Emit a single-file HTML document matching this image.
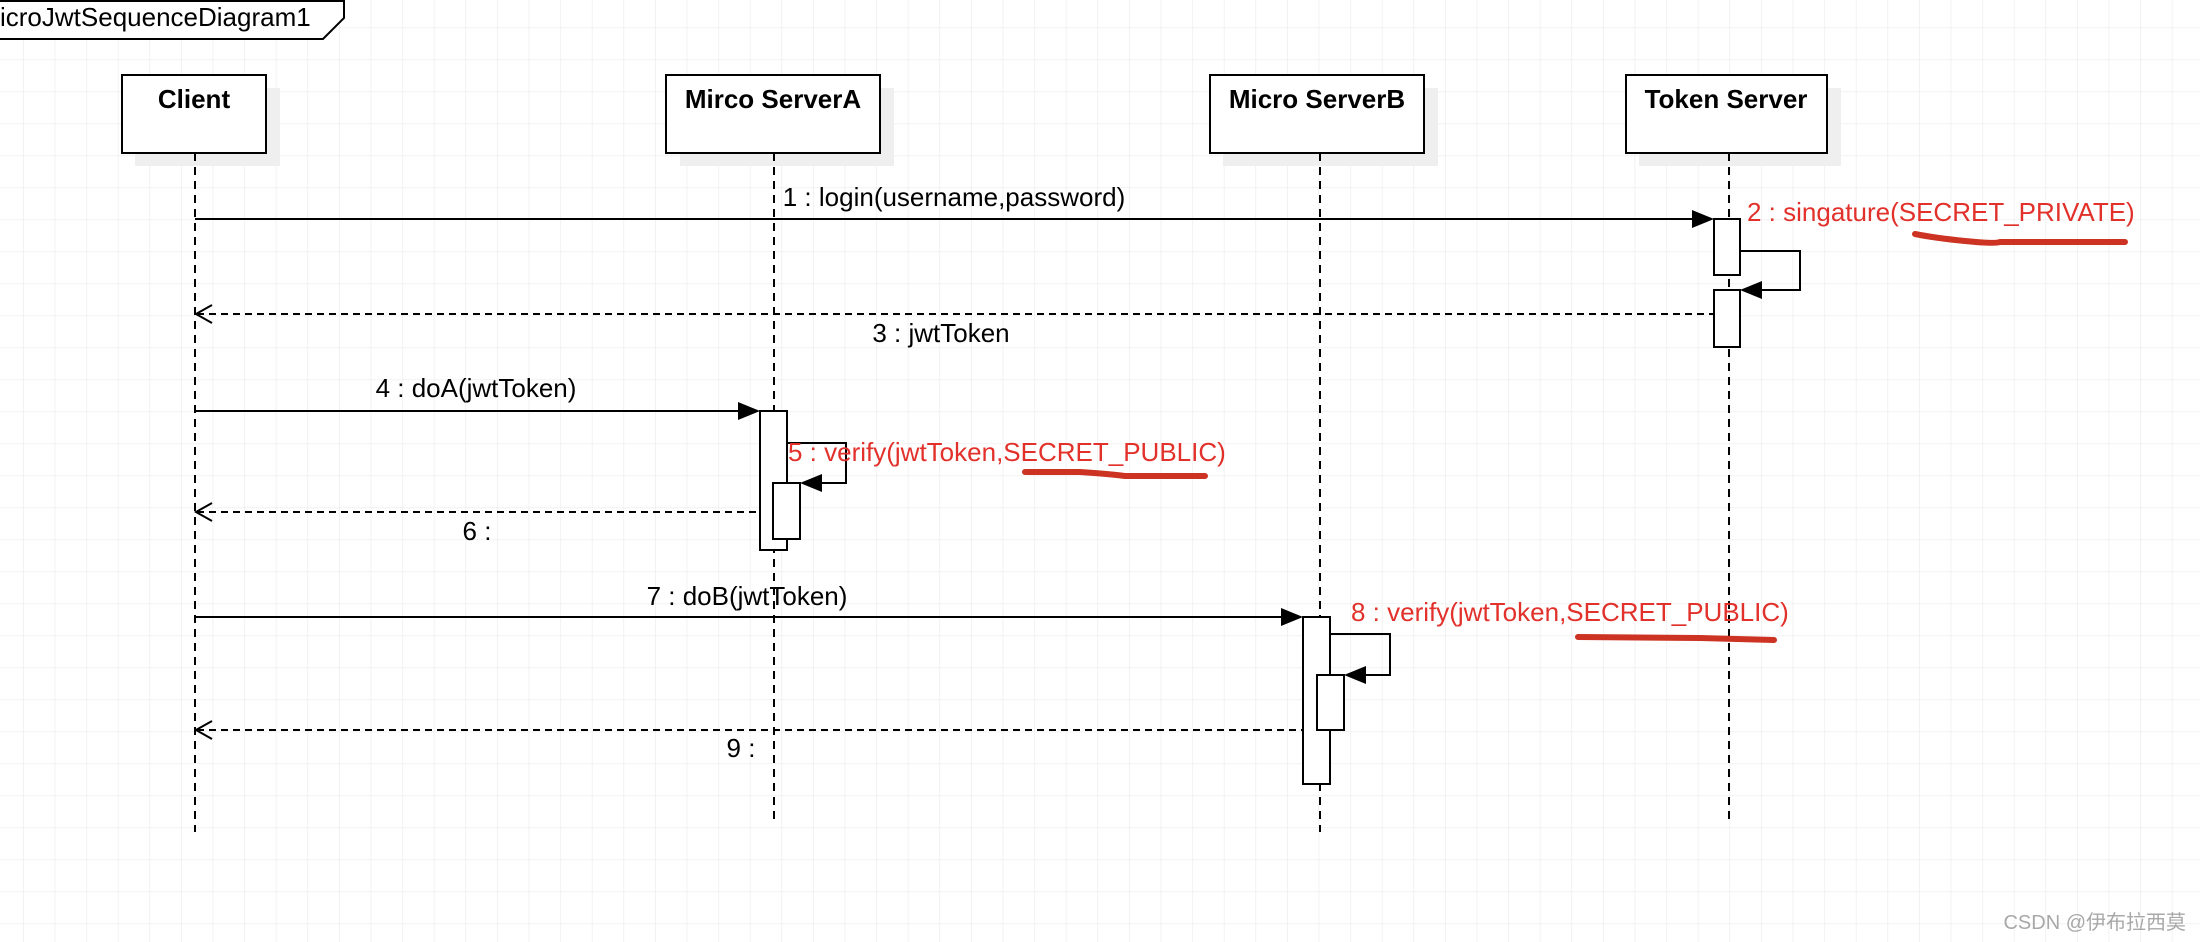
<!DOCTYPE html>
<html><head><meta charset="utf-8"><style>
html,body{margin:0;padding:0;background:#fff;}
svg{display:block;}
text{font-family:"Liberation Sans","Noto Sans CJK SC",sans-serif;}
</style></head><body>
<svg width="2200" height="942" viewBox="0 0 2200 942" xmlns="http://www.w3.org/2000/svg">
<defs>
<pattern id="g" x="23" y="27.5" width="31.6" height="32" patternUnits="userSpaceOnUse">
<path d="M0 0 H31.6 M0 0 V32" stroke="#ebebeb" stroke-width="1.3" fill="none"/>
</pattern>
</defs>
<rect width="2200" height="942" fill="url(#g)"/>
<path d="M0 1 H344 V18 L323 39 H0" fill="#fff" stroke="#000" stroke-width="2"/>
<text x="0" y="26" font-size="26">icroJwtSequenceDiagram1</text>
<g fill="#efefef">
<rect x="135" y="88" width="145" height="78"/>
<rect x="680" y="88" width="214" height="78"/>
<rect x="1223" y="88" width="215" height="78"/>
<rect x="1639" y="88" width="202" height="78"/>
</g>
<g stroke="#000" stroke-width="2" stroke-dasharray="8,6">
<line x1="195" y1="153" x2="195" y2="832"/>
<line x1="774" y1="153" x2="774" y2="821"/>
<line x1="1320" y1="153" x2="1320" y2="832"/>
<line x1="1729" y1="153" x2="1729" y2="821"/>
</g>
<g fill="#fff" stroke="#000" stroke-width="2">
<rect x="122" y="75" width="144" height="78"/>
<rect x="666" y="75" width="214" height="78"/>
<rect x="1210" y="75" width="214" height="78"/>
<rect x="1626" y="75" width="201" height="78"/>
</g>
<g font-size="26" font-weight="bold" text-anchor="middle">
<text x="194" y="108">Client</text>
<text x="773" y="108">Mirco ServerA</text>
<text x="1317" y="108">Micro ServerB</text>
<text x="1726" y="108">Token Server</text>
</g>
<g stroke="#000" stroke-width="2" fill="none">
<line x1="195" y1="219" x2="1700" y2="219"/>
<line x1="195" y1="411" x2="746" y2="411"/>
<line x1="195" y1="617" x2="1289" y2="617"/>
<g stroke-dasharray="7,5">
<line x1="197" y1="314" x2="1714" y2="314"/>
<line x1="197" y1="512" x2="774" y2="512"/>
<line x1="197" y1="730" x2="1303" y2="730"/>
</g>
<polyline points="212,305 196,314 212,323"/>
<polyline points="212,503 196,512 212,521"/>
<polyline points="212,721 196,730 212,739"/>
<polyline points="1740,251 1800,251 1800,290 1756,290"/>
<polyline points="787,443 846,443 846,483 816,483"/>
<polyline points="1330,634 1390,634 1390,675 1360,675"/>
</g>
<g fill="#000">
<polygon points="1714,219 1692,210 1692,228"/>
<polygon points="760,411 738,402 738,420"/>
<polygon points="1303,617 1281,608 1281,626"/>
<polygon points="1740,290 1762,281 1762,299"/>
<polygon points="800,483 822,474 822,492"/>
<polygon points="1344,675 1366,666 1366,684"/>
</g>
<g fill="#fff" stroke="#000" stroke-width="2">
<rect x="1714" y="219" width="26" height="56"/>
<rect x="1714" y="290" width="26" height="57"/>
<rect x="760" y="411" width="27" height="139"/>
<rect x="773" y="483" width="27" height="56"/>
<rect x="1303" y="617" width="27" height="167"/>
<rect x="1317" y="675" width="27" height="55"/>
</g>
<g font-size="26">
<text x="954" y="206" text-anchor="middle">1 : login(username,password)</text>
<text x="941" y="342" text-anchor="middle">3 : jwtToken</text>
<text x="476" y="397" text-anchor="middle">4 : doA(jwtToken)</text>
<text x="477" y="540" text-anchor="middle">6 :</text>
<text x="747" y="605" text-anchor="middle">7 : doB(jwtToken)</text>
<text x="741" y="757" text-anchor="middle">9 :</text>
</g>
<g font-size="26" fill="#e2302a">
<text x="1747" y="221">2 : singature(SECRET_PRIVATE)</text>
<text x="788" y="461">5 : verify(jwtToken,SECRET_PUBLIC)</text>
<text x="1351" y="621">8 : verify(jwtToken,SECRET_PUBLIC)</text>
</g>
<g stroke="#cc3322" stroke-width="6" fill="none" stroke-linecap="round">
<path d="M1915 234 Q1935 238 1965 241 T2000 242 L2125 242"/>
<path d="M1025 472 L1080 472 Q1110 474 1125 476 L1205 476"/>
<path d="M1578 637 L1700 638 L1774 640"/>
</g>
<text x="2186" y="929" font-size="20" fill="#a8a8a8" text-anchor="end">CSDN @伊布拉西莫</text>
</svg>
</body></html>
